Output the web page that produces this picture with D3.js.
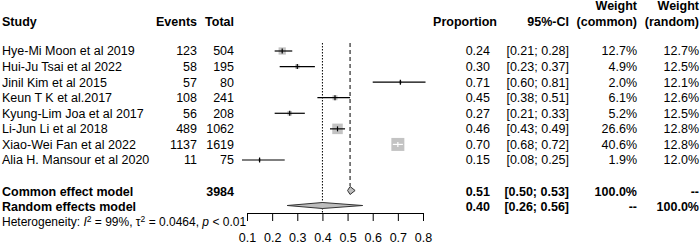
<!DOCTYPE html>
<html>
<head>
<meta charset="UTF-8" />
<title>forest plot</title>
<script src="https://d3js.org/d3.v7.min.js"></script>
<style>
  body { margin: 0; background: #fff; }
  text { font-family: "Liberation Sans", Arial, sans-serif; fill: #000; }
</style>
</head>
<body>
<svg id="chart" width="700" height="244"></svg>
<script>
// ---- data ----
var studies = ["Hye-Mi Moon et al 2019", "Hui-Ju Tsai et al 2022", "Jinil Kim et al 2015",
  "Keun T K et al.2017", "Kyung-Lim Joa et al 2017", "Li-Jun Li et al 2018",
  "Xiao-Wei Fan et al 2022", "Alia H. Mansour et al 2020"]
var events = [123, 58, 57, 108, 56, 489, 1137, 11]
var totals = [504, 195, 80, 241, 208, 1062, 1619, 75]
var props = [0.24, 0.30, 0.71, 0.45, 0.27, 0.46, 0.70, 0.15]
var ciLow = [0.21, 0.23, 0.60, 0.38, 0.21, 0.43, 0.68, 0.08]
var ciHigh = [0.28, 0.37, 0.81, 0.51, 0.33, 0.49, 0.72, 0.25]
var wCommon = [12.7, 4.9, 2.0, 6.1, 5.2, 26.6, 40.6, 1.9]
var wRandom = [12.7, 12.5, 12.1, 12.6, 12.5, 12.8, 12.8, 12.0]

var models = ["Common effect model", "Random effects model"]
var modelTotal = ["3984", ""]
var modelEst = [0.51, 0.40]
var modelLow = [0.50, 0.26]
var modelHigh = [0.53, 0.56]
var modelWc = ["100.0%", "--"]
var modelWr = ["--", "100.0%"]

var axisTicks = [0.1, 0.2, 0.3, 0.4, 0.5, 0.6, 0.7, 0.8]

var svg = d3.select("#chart")
var fs = "12.5px"
var f2 = d3.format(".2f")

var x = d3.scaleLinear().domain([0.1, 0.8]).range([247, 423])
var yRow = d3.scaleLinear().domain([0, 7]).range([51, 160])
var yModel = d3.scaleLinear().domain([0, 1]).range([190.5, 205.5])

// columns (right edges unless said)
var col = { study: 2, events: 197, total: 234, prop: 490, ci: 569, wc: 637, wr: 699 }

function txt(xx, yy, s, anchor, bold, size) {
  return svg.append("text").attr("x", xx).attr("y", yy).attr("dy", "0.35em")
    .attr("text-anchor", anchor).style("font-size", size || fs)
    .style("font-weight", bold ? "bold" : "normal").text(s)
}

// headers
txt(col.study, 21.5, "Study", "start", true)
txt(col.events, 21.5, "Events", "end", true)
txt(col.total, 21.5, "Total", "end", true)
txt(497, 21.5, "Proportion", "end", true)
txt(col.ci, 21.5, "95%-CI", "end", true)
txt(col.wc, 6, "Weight", "end", true)
txt(col.wc, 21.5, "(common)", "end", true)
txt(col.wr, 6, "Weight", "end", true)
txt(col.wr, 21.5, "(random)", "end", true)

// reference lines
svg.append("line").attr("x1", x(modelEst[1])).attr("x2", x(modelEst[1]))
  .attr("y1", 43).attr("y2", 213).attr("stroke", "#000").attr("stroke-width", 1)
  .attr("stroke-dasharray", "1.5,1.5")
svg.append("line").attr("x1", x(modelEst[0])).attr("x2", x(modelEst[0]))
  .attr("y1", 43).attr("y2", 186).attr("stroke", "#555").attr("stroke-width", 1.5)
  .attr("stroke-dasharray", "4,3")

// study rows
var sqScale = d3.scaleSqrt().domain([0, d3.max(wCommon)]).range([0, 13])
studies.forEach(function (s, i) {
  var y = yRow(i)
  txt(col.study, y, s, "start")
  txt(col.events, y, events[i], "end")
  txt(col.total, y, totals[i], "end")
  txt(col.prop, y, f2(props[i]), "end")
  txt(col.ci, y, "[" + f2(ciLow[i]) + "; " + f2(ciHigh[i]) + "]", "end")
  txt(col.wc, y, wCommon[i].toFixed(1) + "%", "end")
  txt(col.wr, y, wRandom[i].toFixed(1) + "%", "end")

  var sz = sqScale(wCommon[i])
  var inside = (x(ciHigh[i]) - x(ciLow[i])) < sz
  svg.append("rect").attr("x", x(props[i]) - sz / 2).attr("y", y - sz / 2)
    .attr("width", sz).attr("height", sz).attr("fill", "#c3c3c3")
  var lc = inside ? "#fff" : "#000"
  svg.append("line").attr("x1", x(ciLow[i])).attr("x2", x(ciHigh[i]))
    .attr("y1", y).attr("y2", y).attr("stroke", lc).attr("stroke-width", 1.2)
  svg.append("line").attr("x1", x(props[i])).attr("x2", x(props[i]))
    .attr("y1", y - 2.5).attr("y2", y + 2.5).attr("stroke", lc).attr("stroke-width", 1.2)
})

// summary rows
models.forEach(function (m, i) {
  var y = yModel(i)
  var ty = y + 1.5
  txt(col.study, ty, m, "start", true)
  txt(col.total, ty, modelTotal[i], "end", true)
  txt(col.prop, ty, f2(modelEst[i]), "end", true)
  txt(col.ci, ty, "[" + f2(modelLow[i]) + "; " + f2(modelHigh[i]) + "]", "end", true)
  txt(col.wc, ty, modelWc[i], "end", true)
  txt(col.wr, ty, modelWr[i], "end", true)
  var h = i === 0 ? 4 : 3
  var pts = [[x(modelLow[i]), y], [x(modelEst[i]), y - h], [x(modelHigh[i]), y], [x(modelEst[i]), y + h]]
  svg.append("path").attr("d", d3.line()(pts) + "Z")
    .attr("fill", "#bdbdbd").attr("stroke", "#333").attr("stroke-width", 1)
})

// heterogeneity
var het = svg.append("text").attr("x", col.study).attr("y", 225.5).style("font-size", "12px")
het.append("tspan").text("Heterogeneity: ")
het.append("tspan").style("font-style", "italic").text("I")
het.append("tspan").attr("dy", -4).style("font-size", "8.5px").text("2")
het.append("tspan").attr("dy", 4).text(" = 99%, \u03c4")
het.append("tspan").attr("dy", -4).style("font-size", "8.5px").text("2")
het.append("tspan").attr("dy", 4).text(" = 0.0464, ")
het.append("tspan").style("font-style", "italic").text("p")
het.append("tspan").text(" < 0.01")

// axis
var ax = svg.append("g").attr("transform", "translate(0,213)")
  .call(d3.axisBottom(x).tickValues(axisTicks).tickFormat(d3.format(".1f"))
    .tickSize(8).tickSizeOuter(0).tickPadding(12))
ax.select(".domain").attr("stroke", "#000")
ax.selectAll("line").attr("stroke", "#000")
ax.selectAll("text").style("font-size", fs).style("font-family", "'Liberation Sans', Arial, sans-serif")
</script>
</body>
</html>
